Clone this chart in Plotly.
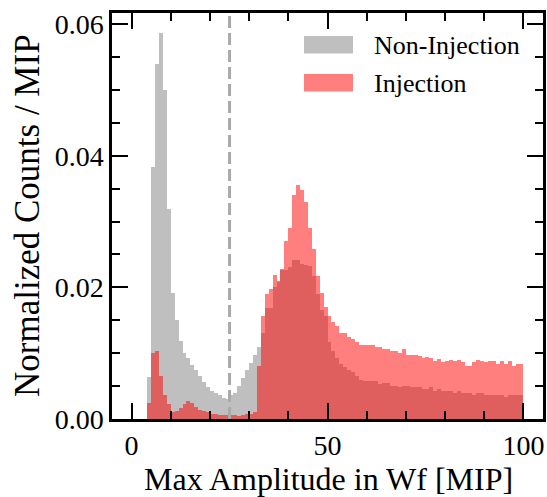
import plotly.graph_objects as go

# ---- data (normalized counts per 1-MIP bin, bins 0..99) ----
bin_edges_start = list(range(0, 100))
non_injection = [
    0, 0, 0, 0, 0.0064, 0.0383, 0.0540, 0.0587, 0.0500, 0.0319,
    0.0191, 0.0151, 0.0119, 0.0101, 0.0093, 0.0082, 0.0074, 0.0065, 0.0056, 0.0048,
    0.0042, 0.0039, 0.0037, 0.0032, 0.0031, 0.0037, 0.0039, 0.0050, 0.0063, 0.0075,
    0.0085, 0.0098, 0.0109, 0.0130, 0.0168, 0.0168, 0.0200, 0.0208, 0.0226, 0.0227,
    0.0231, 0.0241, 0.0241, 0.0236, 0.0234, 0.0233, 0.0217, 0.0190, 0.0165, 0.0157,
    0.0117, 0.0103, 0.0092, 0.0084, 0.0079, 0.0074, 0.0071, 0.0065, 0.0060, 0.0058,
    0.0058, 0.0057, 0.0057, 0.0053, 0.0054, 0.0054, 0.0050, 0.0050, 0.0048, 0.0050,
    0.0050, 0.0048, 0.0048, 0.0048, 0.0046, 0.0045, 0.0049, 0.0043, 0.0045, 0.0042,
    0.0043, 0.0043, 0.0039, 0.0042, 0.0039, 0.0039, 0.0039, 0.0036, 0.0039, 0.0039,
    0.0037, 0.0037, 0.0037, 0.0037, 0.0037, 0.0034, 0.0036, 0.0036, 0.0036, 0.0037,
]
injection = [
    0, 0, 0, 0, 0.0024, 0.0101, 0.0103, 0.0066, 0.0037, 0.0023,
    0.0011, 0.0012, 0.0017, 0.0023, 0.0027, 0.0024, 0.0018, 0.0014, 0.0012, 0.0011,
    0.0008, 0.0007, 0.00065, 0.0006, 0.00065, 0.00065, 0.0006, 0.0005, 0.0006, 0.0008,
    0.0008, 0.0010, 0.0080, 0.0157, 0.0190, 0.0198, 0.0219, 0.0209, 0.0228, 0.0270,
    0.0291, 0.0340, 0.0355, 0.0348, 0.0330, 0.0291, 0.0259, 0.0218, 0.0191, 0.0170,
    0.0157, 0.0147, 0.0142, 0.0131, 0.0130, 0.0124, 0.0122, 0.0117, 0.0113, 0.0113,
    0.0112, 0.0112, 0.0109, 0.0109, 0.0107, 0.0106, 0.0103, 0.0104, 0.0101, 0.0106,
    0.0098, 0.0097, 0.0098, 0.0095, 0.0092, 0.0094, 0.0093, 0.0088, 0.0091, 0.0086,
    0.0088, 0.0090, 0.0088, 0.0089, 0.0086, 0.0081, 0.0081, 0.0086, 0.0089, 0.0088,
    0.0086, 0.0088, 0.0088, 0.0084, 0.0088, 0.0084, 0.0088, 0.0080, 0.0084, 0.0083,
]
bin_width = 1.0
threshold = 25
x_ticks = [0, 50, 100]
y_ticks = [0.00, 0.02, 0.04, 0.06]
series_names = ["Non-Injection", "Injection"]
x_title = "Max Amplitude in Wf [MIP]"
y_title = "Normalized Counts / MIP"

centers = [b + bin_width / 2 for b in bin_edges_start]

FONT = "Liberation Serif"
grey = "rgba(128,128,128,0.5)"
red = "rgba(255,0,0,0.5)"

fig = go.Figure()
fig.add_trace(go.Bar(x=centers, y=non_injection, width=bin_width, marker=dict(color=grey, line=dict(width=0)),
                     name=series_names[0], showlegend=False))
fig.add_trace(go.Bar(x=centers, y=injection, width=bin_width, marker=dict(color=red, line=dict(width=0)),
                     name=series_names[1], showlegend=False))

fig.add_shape(type="line", xref="x", yref="paper", x0=threshold, x1=threshold, y0=0, y1=1,
              line=dict(color="#aaaaaa", width=3, dash="12px,5px"), layer="above")

# manual legend and axis titles (paper coords from pixel positions)
PW, PH, L, B = 431.0, 406.0, 112.0, 419.0
def px(x): return (x - L) / PW
def py(y): return (B - y) / PH
legend_items = [(series_names[0], grey, 44.7), (series_names[1], red, 82.8)]
for name, col, yc in legend_items:
    fig.add_shape(type="rect", xref="paper", yref="paper", x0=px(304), x1=px(353),
                  y0=py(yc + 8.7), y1=py(yc - 8.7), fillcolor=col, line=dict(width=0), layer="above")
    fig.add_annotation(xref="paper", yref="paper", x=px(372), y=py(yc + 1), text=name, showarrow=False,
                       xanchor="left", yanchor="middle", font=dict(family=FONT, size=26, color="black"))

fig.add_annotation(xref="paper", yref="paper", x=px(328), y=py(479), text=x_title, showarrow=False,
                   xanchor="center", yanchor="middle", font=dict(family=FONT, size=32, color="black"))
fig.add_annotation(xref="paper", yref="paper", x=px(27), y=py(216), text=y_title, showarrow=False,
                   textangle=-90, xanchor="center", yanchor="middle",
                   font=dict(family=FONT, size=35, color="black"))

axis_common = dict(showline=True, linewidth=2.5, linecolor="black", mirror="ticks", ticks="inside",
                   ticklen=16, tickwidth=2, tickcolor="black", showgrid=False, zeroline=False,
                   tickfont=dict(family=FONT, size=28, color="black"))
fig.update_xaxes(range=[-5, 105], tickvals=x_ticks,
                 minor=dict(ticks="inside", ticklen=8, tickwidth=1.5, tickcolor="black", dtick=10, tick0=0, showgrid=False),
                 **axis_common)
fig.update_yaxes(range=[0, 0.0617], tickvals=y_ticks, tickformat=".2f",
                 minor=dict(ticks="inside", ticklen=8, tickwidth=1.5, tickcolor="black", dtick=0.005, tick0=0, showgrid=False),
                 **axis_common)

fig.update_layout(width=547, height=497, barmode="overlay", bargap=0,
                  font=dict(family=FONT, color="black"),
                  margin=dict(l=112, r=4, t=13, b=78, autoexpand=False),
                  plot_bgcolor="white", paper_bgcolor="white", showlegend=False)

fig.write_html("out.html", config={"displayModeBar": False},
               post_script="document.body.style.margin='0';document.body.style.padding='0';")
